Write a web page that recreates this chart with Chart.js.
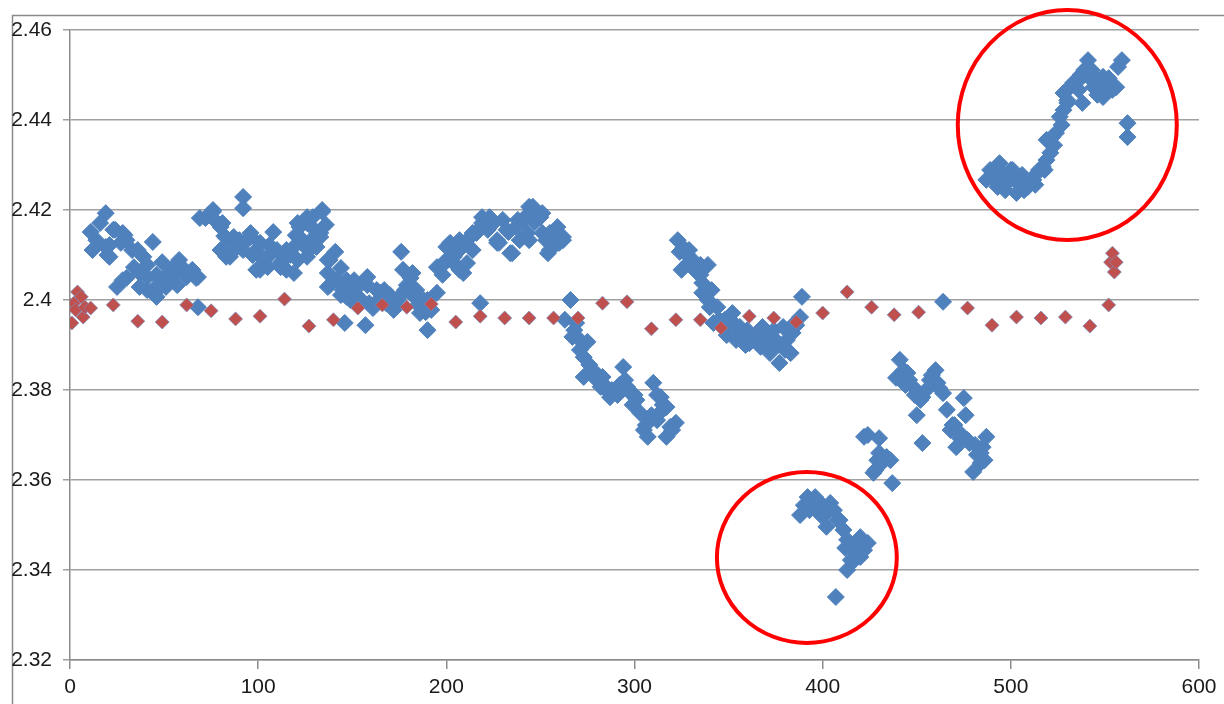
<!DOCTYPE html>
<html lang="en">
<head>
    <meta charset="UTF-8">
    <title>Scatter</title>
    <style>
        body { margin: 0; background: #fff; }
        #wrap { position: relative; width: 1224px; height: 704px; overflow: hidden; }
    </style>
</head>
<body>
<div id="wrap">
    <canvas id="chart" width="1224" height="704"></canvas>
</div>
<script src="https://cdn.jsdelivr.net/npm/chart.js"></script>
<script>
// blue series (x, y pairs in matching order)
const blueX = [
    11,12,14,16,19,20,21,24,25,27,
    29,30,33,34,37,39,41,44,44,46,
    48,49,51,53,55,57,58,61,62,65,
    67,68,72,74,76,78,80,82,83,85,
    87,89,90,92,92,94,96,97,99,101,
    103,105,106,108,110,112,114,115,117,119,
    120,121,122,124,126,128,129,131,133,134,
    136,137,137,138,141,142,144,145,146,147,
    147,150,153,154,157,158,159,161,163,165,
    167,168,170,172,174,175,176,177,179,181,
    182,184,186,188,190,190,192,195,195,198,
    200,202,205,207,207,209,211,214,216,218,
    218,219,222,225,227,228,230,233,235,237,
    239,241,243,244,247,250,251,253,255,257,
    259,260,262,263,266,267,269,271,273,273,
    275,278,280,282,283,285,287,290,292,294,
    296,298,299,301,303,305,307,308,310,312,
    312,314,315,317,317,319,322,323,324,325,
    326,328,329,331,333,335,336,336,339,339,
    340,342,344,345,347,349,351,352,354,356,
    358,360,361,364,367,368,370,372,374,376,
    377,379,381,383,384,386,388,389,388,390,
    392,393,395,397,399,400,402,404,406,407,
    409,411,413,413,415,416,418,420,420,421,
    424,422,424,427,428,429,430,430,432,434,
    436,437,439,441,443,445,446,448,450,452,
    453,453,455,457,460,461,462,464,464,466,
    468,469,471,473,475,476,477,478,480,482,
    484,484,485,487,487,489,490,493,494,496,
    498,500,501,503,505,506,509,510,512,514,
    515,517,519,521,519,522,524,526,528,530,
    528,531,533,535,537,538,541,539,538,542,
    544,546,547,549,549,551,553,556,557,559,
    562,562,
    // more points in the dense clumps
    23,28,21,30,19,36,28,41,48,46,
    55,62,68,52,41,37,69,76,81,87,
    83,80,92,96,101,99,105,112,115,119,
    122,126,129,134,133,129,126,121,137,
    197,200,207,211,214,219,223,227,232,234,
    238,243,246,251,255,259,262,254,244,209,204,
    138,144,149,151,155,158,164,167,173,178,182,185,189,
    268,271,276,279,284,288,291,295,300,306,309,315,320,
    329,335,341,348,353,359,365,369,375,380,384,
    391,396,401,408,412,417,422,
    444,449,458,470,474,481,486,
    492,497,502,507,513,518,523,527,530,536,543,546,552,554
];
const blueY = [
    2.4151,2.4111,2.4133,2.4171,2.4193,2.4100,2.4122,2.4156,2.4029,2.4127,
    2.4144,2.4049,2.4111,2.4073,2.4060,2.4096,2.4078,2.4129,2.4022,2.4056,
    2.4044,2.4084,2.4029,2.4062,2.4060,2.4033,2.4089,2.4067,2.4051,2.4067,
    2.4049,2.3984,2.4182,2.4191,2.4196,2.4173,2.4162,2.4142,2.4138,2.4096,
    2.4122,2.4118,2.4133,2.4229,2.4204,2.4133,2.4140,2.4100,2.4111,2.4067,
    2.4089,2.4073,2.4122,2.4151,2.4111,2.4084,2.4093,2.4067,2.4100,2.4118,
    2.4144,2.4171,2.4162,2.4122,2.4184,2.4133,2.4160,2.4118,2.4149,2.4196,
    2.4167,2.4060,2.4029,2.4089,2.4107,2.4044,2.4071,2.4022,2.3949,2.4044,
    2.4007,2.4022,2.4029,2.4000,2.3944,2.4051,2.3993,2.3982,2.4022,2.4016,
    2.4000,2.3993,2.4011,2.3978,2.4000,2.4007,2.4107,2.4067,2.4033,2.4049,
    2.4060,2.4022,2.3971,2.4000,2.3933,2.4000,2.3978,2.4016,2.4073,2.4056,
    2.4089,2.4127,2.4078,2.4067,2.4111,2.4122,2.4133,2.4111,2.4149,2.4160,
    2.3993,2.4184,2.4156,2.4171,2.4133,2.4127,2.4178,2.4151,2.4104,2.4162,
    2.4133,2.4178,2.4189,2.4207,2.4173,2.4184,2.4149,2.4133,2.4111,2.4151,
    2.4162,2.4127,2.4133,2.3956,2.4000,2.3918,2.3949,2.3911,2.3873,2.3829,
    2.3907,2.3844,2.3822,2.3807,2.3829,2.3800,2.3784,2.3800,2.3811,2.3851,
    2.3807,2.3793,2.3767,2.3778,2.3749,2.3711,2.3696,2.3733,2.3816,2.3789,
    2.3733,2.3784,2.3756,2.3762,2.3696,2.3718,2.3727,2.4133,2.4107,2.4067,
    2.4116,2.4100,2.4084,2.4089,2.4062,2.4056,2.4038,2.4016,2.4078,2.4000,
    2.3984,2.3949,2.3984,2.3956,2.3940,2.3922,2.3956,2.3971,2.3911,2.3940,
    2.3922,2.3933,2.3904,2.3922,2.3896,2.3940,2.3911,2.3882,2.3933,2.3900,
    2.3860,2.3940,2.3911,2.3882,2.3927,2.3944,2.3962,2.4007,2.3522,2.3544,
    2.3562,2.3533,2.3556,2.3533,2.3522,2.3544,2.3496,2.3549,2.3533,2.3340,
    2.3511,2.3489,2.3467,2.3400,2.3422,2.3444,2.3456,2.3473,2.3429,2.3444,
    2.3460,2.3696,2.3700,2.3616,2.3622,2.3644,2.3660,2.3693,2.3640,2.3651,
    2.3644,2.3593,2.3827,2.3867,2.3844,2.3838,2.3822,2.3807,2.3744,2.3778,
    2.3784,2.3682,2.3800,2.3822,2.3844,2.3816,2.3804,2.3793,2.3996,2.3756,
    2.3711,2.3722,2.3673,2.3693,2.3782,2.3744,2.3689,2.3682,2.3618,2.3656,
    2.3660,2.3638,2.3673,2.3696,2.4267,2.4289,2.4271,2.4251,2.4304,2.4278,
    2.4260,2.4289,2.4289,2.4238,2.4267,2.4278,2.4251,2.4260,2.4267,2.4282,
    2.4289,2.4296,2.4311,2.4327,2.4356,2.4362,2.4371,2.4407,2.4422,2.4438,
    2.4460,2.4471,2.4482,2.4489,2.4500,2.4496,2.4533,2.4511,2.4438,2.4493,
    2.4473,2.4489,2.4467,2.4451,2.4496,2.4484,2.4478,2.4473,2.4518,2.4533,
    2.4393,2.4362,
    // more points in the dense clumps
    2.4156,2.4149,2.4096,2.4133,2.4118,2.4111,2.4044,2.4051,2.4029,2.4007,
    2.4073,2.4060,2.4051,2.4044,2.4022,2.4029,2.4182,2.4200,2.4171,2.4140,
    2.4096,2.4111,2.4111,2.4149,2.4127,2.4067,2.4096,2.4073,2.4111,2.4060,
    2.4140,2.4171,2.4184,2.4200,2.4140,2.4118,2.4096,2.4089,2.4089,
    2.4073,2.4118,2.4133,2.4082,2.4149,2.4171,2.4184,2.4127,2.4156,2.4104,
    2.4178,2.4149,2.4207,2.4193,2.4149,2.4127,2.4140,2.4104,2.4133,2.4060,2.4096,
    2.4033,2.4011,2.4000,2.4044,2.4000,2.4033,2.4000,2.4022,2.3989,2.4022,2.4011,2.3989,2.3973,
    2.3933,2.3889,2.3856,2.3833,2.3811,2.3800,2.3789,2.3822,2.3789,2.3722,2.3744,2.3767,2.3711,
    2.4111,2.4078,2.4022,2.3956,2.3944,2.3900,2.3911,2.3900,2.3911,2.3889,2.3944,
    2.3540,2.3562,2.3522,2.3511,2.3449,2.3422,2.3444,
    2.3811,2.3789,2.3833,2.3722,2.3700,2.3678,2.3644,
    2.4289,2.4244,2.4267,2.4244,2.4256,2.4289,2.4344,2.4389,2.4444,2.4467,2.4511,2.4456,2.4493,2.4467
];

// red series
const redX = [
    0,1,2,3,4,6,7,8,11,
    23,36,49,62,75,88,101,114,127,140,153,166,179,192,205,218,231,
    244,257,270,283,296,309,322,335,346,361,374,386,400,413,426,438,451,
    477,490,503,516,529,542,552,553,554,555,556
];
const redY = [
    2.3989,2.3949,2.3993,2.3978,2.4018,2.4007,2.3962,2.3984,2.3982,
    2.3989,2.3953,2.3951,2.3989,2.3976,2.3958,2.3964,2.4002,2.3942,2.3956,2.3982,2.3989,2.3984,2.3991,2.3951,2.3964,2.396,
    2.396,2.396,2.396,2.3993,2.3996,2.3936,2.3956,2.3956,2.3938,2.3964,2.396,2.3951,2.3971,2.4018,2.3984,2.3967,2.3973,
    2.3982,2.3944,2.3962,2.396,2.3962,2.3942,2.3989,2.4084,2.4104,2.4062,2.4084
];

// axis ticks
const xTicks = [0, 100, 200, 300, 400, 500, 600];
const yTicks = [2.32, 2.34, 2.36, 2.38, 2.40, 2.42, 2.44, 2.46];

// red ring annotations, in data units: centre x, centre y, radius x, radius y
const ringCx = [530.0, 391.6];
const ringCy = [2.4389, 2.3428];
const ringRx = [58.2, 47.8];
const ringRy = [0.02556, 0.0190];

const labelFont = { family: "'Liberation Sans Narrow', 'Liberation Sans', Arial, sans-serif", size: 21 };

const frame = {
    id: 'frame',
    beforeDraw(chart) {
        const ctx = chart.ctx;
        ctx.save();
        ctx.strokeStyle = '#8a8a8a';
        ctx.lineWidth = 1.5;
        ctx.beginPath();
        ctx.moveTo(12.5, 704);
        ctx.lineTo(12.5, 15.5);
        ctx.lineTo(1224, 15.5);
        ctx.stroke();
        ctx.restore();
    }
};

const rings = {
    id: 'rings',
    afterDraw(chart) {
        const ctx = chart.ctx, sx = chart.scales.x, sy = chart.scales.y;
        ctx.save();
        ctx.strokeStyle = '#ff0000';
        ctx.lineWidth = 4;
        for (let i = 0; i < ringCx.length; i++) {
            const cx = sx.getPixelForValue(ringCx[i]);
            const cy = sy.getPixelForValue(ringCy[i]);
            const rx = Math.abs(sx.getPixelForValue(ringCx[i] + ringRx[i]) - cx);
            const ry = Math.abs(sy.getPixelForValue(ringCy[i] + ringRy[i]) - cy);
            ctx.beginPath();
            ctx.ellipse(cx, cy, rx, ry, 0, 0, Math.PI * 2);
            ctx.stroke();
        }
        ctx.restore();
    }
};

new Chart(document.getElementById('chart').getContext('2d'), {
    type: 'scatter',
    data: {
        datasets: [
            {
                label: 'red',
                data: redX.map((x, i) => ({ x: x, y: redY[i] })),
                pointStyle: 'rectRot',
                pointRadius: 7,
                backgroundColor: '#C0504D',
                borderColor: 'rgba(120,140,190,0.7)',
                borderWidth: 1
            },
            {
                label: 'blue',
                data: blueX.map((x, i) => ({ x: x, y: blueY[i] })),
                pointStyle: 'rectRot',
                pointRadius: 8.5,
                backgroundColor: '#4F81BD',
                borderColor: '#4F81BD',
                borderWidth: 1
            }
        ]
    },
    options: {
        responsive: false,
        animation: false,
        layout: { padding: { top: 30, right: 25, bottom: 0, left: 0 } },
        plugins: { legend: { display: false }, tooltip: { enabled: false } },
        scales: {
            x: {
                type: 'linear',
                min: 0, max: 600,
                afterFit: s => { s.height = 44; },
                afterBuildTicks: s => { s.ticks = xTicks.map(v => ({ value: v })); },
                grid: { drawOnChartArea: false, drawTicks: true, tickLength: 9, color: '#8c8c8c', lineWidth: 1.5 },
                border: { display: true, color: '#8c8c8c', width: 1.5 },
                ticks: { color: '#1a1a1a', font: labelFont, padding: 6, maxRotation: 0 }
            },
            y: {
                min: 2.32, max: 2.46,
                afterFit: s => { s.width = 70; },
                afterBuildTicks: s => { s.ticks = yTicks.map(v => ({ value: v })); },
                grid: { color: '#a0a0a0', lineWidth: 1.5, drawTicks: true, tickLength: 7 },
                border: { display: true, color: '#8c8c8c', width: 1.5 },
                ticks: {
                    color: '#1a1a1a', font: labelFont, padding: 11,
                    callback: v => String(Number(v.toFixed(2)))
                }
            }
        }
    },
    plugins: [frame, rings]
});
</script>
</body>
</html>
